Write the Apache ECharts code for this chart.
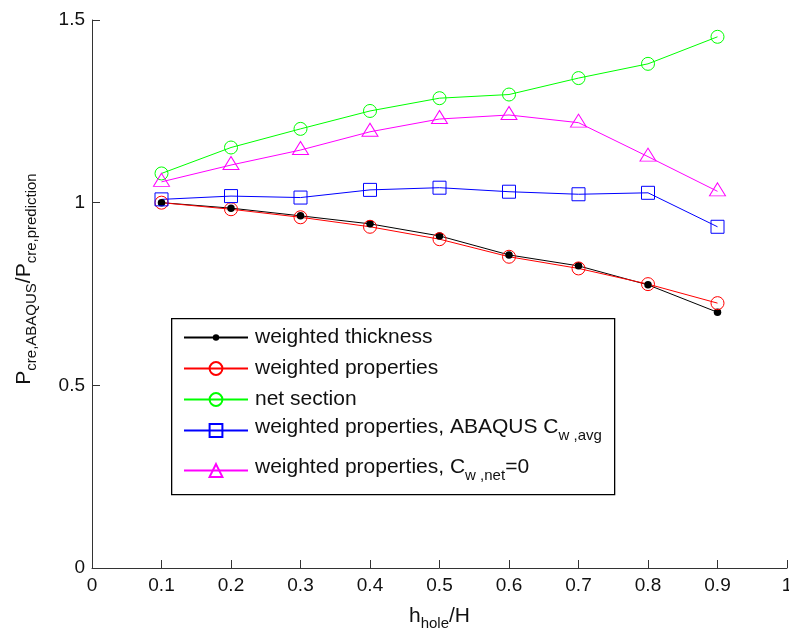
<!DOCTYPE html>
<html>
<head>
<meta charset="utf-8">
<script src="https://cdn.jsdelivr.net/npm/echarts@6/dist/echarts.min.js"></script>
<style>
html,body{margin:0;padding:0;background:#fff;}
#chart{width:789px;height:633px;}
</style>
</head>
<body>
<div id="chart"></div>
<script>
// ---- data ----
var xValues = [0.1, 0.2, 0.3, 0.4, 0.5, 0.6, 0.7, 0.8, 0.9];
var weightedThickness = [1.000, 0.985, 0.964, 0.942, 0.909, 0.857, 0.827, 0.775, 0.700];
var weightedProperties = [1.000, 0.982, 0.960, 0.934, 0.900, 0.852, 0.820, 0.777, 0.725];
var netSection = [1.080, 1.151, 1.202, 1.251, 1.286, 1.296, 1.341, 1.380, 1.454];
var abaqusCwAvg = [1.009, 1.018, 1.014, 1.035, 1.041, 1.030, 1.023, 1.027, 0.934];
var cwNetZero = [1.057, 1.103, 1.144, 1.194, 1.229, 1.240, 1.219, 1.126, 1.031];
var seriesNames = ['weighted thickness', 'weighted properties', 'net section',
  'weighted properties, ABAQUS C_w,avg', 'weighted properties, C_w,net=0'];
var xTicks = { min: 0, max: 1, interval: 0.1 };
var yTicks = { min: 0, max: 1.5, interval: 0.5 };

function pairs(vals) { return xValues.map(function (x, i) { return [x, vals[i]]; }); }

var FONT = '"Liberation Sans", Arial, Helvetica, sans-serif';
var TXT = '#111';
var dotPath = 'path://M0 0M20 20M10 5A5 5 0 1 1 10 15A5 5 0 1 1 10 5Z';

function mk(name, vals, color, symbol, size, filled, offset) {
  return {
    name: name, type: 'line', data: pairs(vals),
    symbol: symbol, symbolSize: size, symbolOffset: offset || [0, 0],
    showSymbol: true, animation: false, z: 2,
    lineStyle: { color: color, width: 1 },
    itemStyle: filled ? { color: color, borderWidth: 0 } :
      { color: 'rgba(255,255,255,0)', borderColor: color, borderWidth: 1 },
    emphasis: { disabled: true }
  };
}

var mainStyle = function (fs) { return { fontSize: fs, lineHeight: 20, fontFamily: FONT, color: TXT }; };
var subStyle = function (fs) { return { fontSize: fs, height: 4, lineHeight: 20, verticalAlign: 'bottom', fontFamily: FONT, color: TXT }; };

function legendAt(names, top, padBottom) {
  return {
    show: true, orient: 'vertical', left: 183, top: top,
    padding: 0, itemGap: 10, itemWidth: 64, itemHeight: 16,
    data: names, selectedMode: false, z: 5,
    formatter: function (name) {
      if (name === seriesNames[3]) return '{m|weighted properties, ABAQUS C}{s|w ,avg}';
      if (name === seriesNames[4]) return '{m|weighted properties, C}{s|w ,net}{m|=0}';
      return '{m|' + name + '}';
    },
    textStyle: {
      fontFamily: FONT, fontSize: 21, color: TXT, padding: [0, 0, padBottom, 2],
      rich: { m: mainStyle(21), s: subStyle(15) }
    }
  };
}

var chart = echarts.init(document.getElementById('chart'), null, { renderer: 'canvas' });
var option = {
  backgroundColor: '#fff',
  animation: false,
  textStyle: { fontFamily: FONT },
  grid: { left: 92, top: 20, right: 2, bottom: 65, containLabel: false, outerBoundsMode: 'none' },
  xAxis: {
    type: 'value', min: xTicks.min, max: xTicks.max, interval: xTicks.interval,
    axisLine: { show: true, lineStyle: { color: '#333', width: 1 } },
    axisTick: { show: true, inside: true, length: 8, lineStyle: { color: '#333' } },
    splitLine: { show: false },
    axisLabel: { color: TXT, fontSize: 19, fontFamily: FONT, margin: 8, showMaxLabel: true, hideOverlap: false },
    name: '{m|h}{s|hole}{m|/H}', nameLocation: 'middle', nameGap: 38,
    nameTextStyle: { rich: { m: mainStyle(21), s: subStyle(15) } }
  },
  yAxis: {
    type: 'value', min: yTicks.min, max: yTicks.max, interval: yTicks.interval,
    axisLine: { show: true, lineStyle: { color: '#333', width: 1 } },
    axisTick: { show: true, inside: true, length: 8, lineStyle: { color: '#333' } },
    splitLine: { show: false },
    axisLabel: { color: TXT, fontSize: 19, fontFamily: FONT, margin: 7,
      formatter: function (v) { return String(+v.toFixed(2)); } },
    name: '{m|P}{s|cre,ABAQUS}{m|/P}{s|cre,prediction}', nameLocation: 'middle', nameGap: 58, nameRotate: 90,
    nameTextStyle: { padding: [0, 0, 0, 30], rich: { m: mainStyle(21), s: subStyle(15) } }
  },
  graphic: [{
    type: 'rect', z: 3, left: 171, top: 318,
    shape: { width: 443, height: 176 },
    style: { fill: '#fff', stroke: '#000', lineWidth: 1.3 }
  }],
  legend: [
    legendAt(seriesNames.slice(0, 3), 327, 0),
    legendAt([seriesNames[3]], 417, 6),
    legendAt([seriesNames[4]], 457, 6)
  ],
  series: [
    mk(seriesNames[0], weightedThickness, '#000000', dotPath, 15, true),
    mk(seriesNames[1], weightedProperties, '#ff0000', 'circle', 13, false),
    mk(seriesNames[2], netSection, '#00ff00', 'circle', 13, false),
    mk(seriesNames[3], abaqusCwAvg, '#0000ff', 'rect', 13, false),
    mk(seriesNames[4], cwNetZero, '#ff00ff', 'triangle', [16, 13], false, [0, -2])
  ]
};
chart.setOption(option);
</script>
</body>
</html>
